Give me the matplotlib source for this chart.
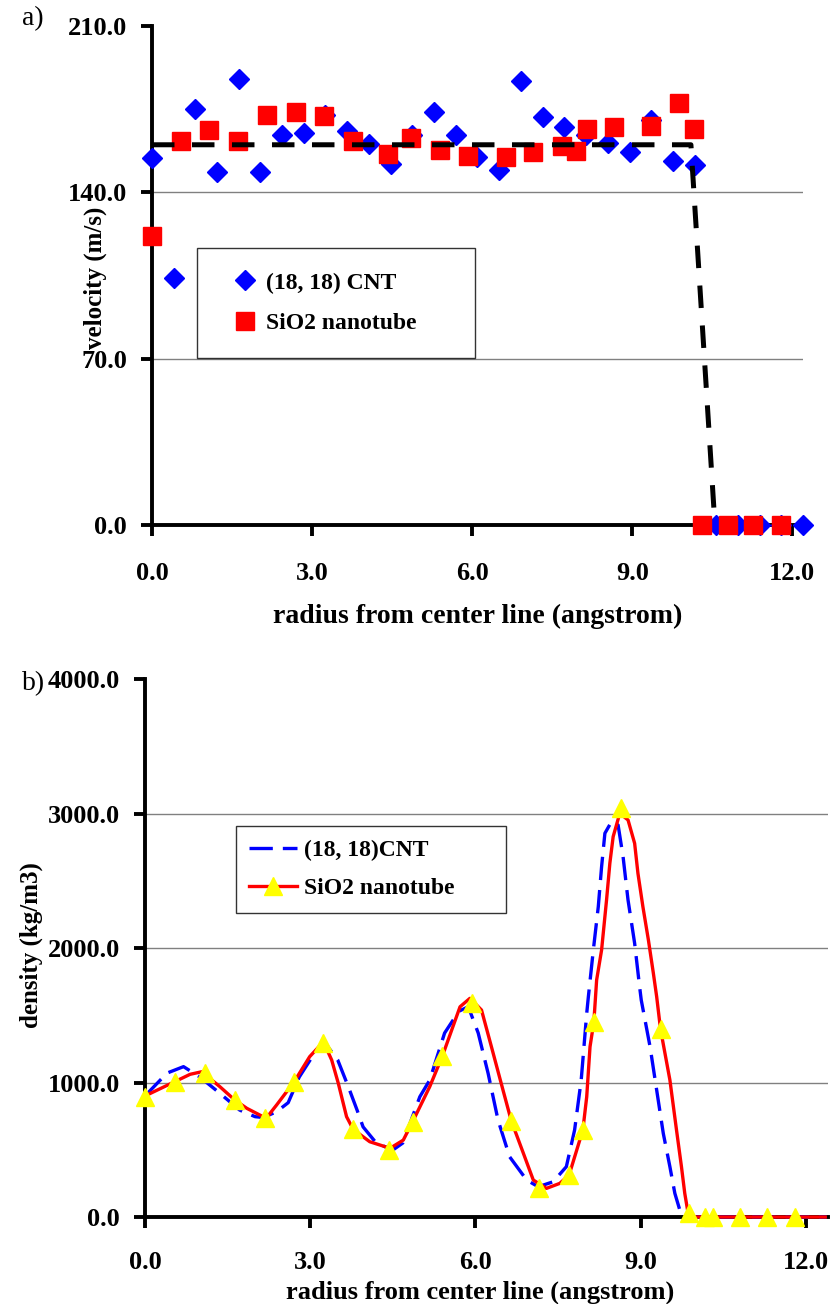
import matplotlib
matplotlib.use("Agg")
import matplotlib.pyplot as plt
from matplotlib.lines import Line2D

plt.rcParams.update({"font.family": ["Liberation Serif", "DejaVu Serif"], "font.weight": "bold",
                     "axes.labelweight": "bold"})

# ---- panel a: velocity profiles ----
cnt_r = [0.00, 0.41, 0.81, 1.22, 1.63, 2.03, 2.44, 2.85, 3.25, 3.66, 4.07, 4.47, 4.88, 5.29, 5.69, 6.10,
         6.51, 6.91, 7.32, 7.73, 8.13, 8.54, 8.95, 9.35, 9.76, 10.17, 10.57, 10.98, 11.39, 11.79, 12.20]
cnt_v = [154.3, 104.0, 175.0, 148.7, 187.7, 148.7, 164.1, 165.1, 172.6, 166.0, 160.4, 151.9, 164.1, 173.9, 164.1, 155.0,
         149.4, 187.0, 171.6, 167.4, 164.1, 160.9, 157.1, 170.5, 153.3, 151.5, 0.0, 0.0, 0.0, 0.0, 0.0]
sio2_r = [0.00, 0.54, 1.07, 1.62, 2.15, 2.70, 3.23, 3.77, 4.42, 4.85, 5.39, 5.93, 6.64, 7.14, 7.69, 7.94,
          8.16, 8.65, 9.36, 9.87, 10.15, 10.31, 10.79, 11.27, 11.78]
sio2_v = [121.6, 161.6, 166.2, 161.6, 172.6, 173.7, 172.1, 161.6, 156.0, 162.8, 157.8, 155.4, 154.8, 157.1, 159.5, 157.5,
          166.7, 167.4, 167.9, 177.7, 166.7, 0.0, 0.0, 0.0, 0.0]
mean_r = [0.0, 10.1, 10.55]
mean_v = [160.0, 160.0, 0.0]

# ---- panel b: density profiles ----
cnt_dr = [0.00, 0.40, 0.70, 1.00, 1.33, 1.72, 2.00, 2.15, 2.39, 2.60, 2.80, 3.05, 3.27, 3.50, 3.70, 3.85, 3.96, 4.20,
          4.50, 4.68, 4.99, 5.17, 5.44, 5.70, 5.87, 6.05, 6.23, 6.41, 6.62, 6.93, 7.14, 7.41, 7.65, 7.80, 7.92, 8.02,
          8.05, 8.14, 8.23, 8.29, 8.35, 8.47, 8.59, 8.68, 8.77, 8.89, 8.98, 9.01, 9.17, 9.29, 9.41, 9.53, 9.62, 9.71,
          9.83, 12.37]
cnt_d = [900, 1070, 1118, 1040, 930, 795, 746, 740, 783, 850, 1040, 1200, 1294, 1167, 960, 796, 670, 550,
         498, 550, 894, 1018, 1368, 1530, 1563, 1368, 1068, 721, 448, 275, 225, 262, 374, 647, 1019, 1514,
         1638, 1985, 2307, 2604, 2853, 2939, 2914, 2679, 2357, 2035, 1712, 1613, 1266, 944, 622, 374, 176, 52,
         0, 0]
sio2_dr = [0.00, 0.54, 0.82, 1.03, 1.36, 1.63, 1.85, 2.20, 2.39, 2.71, 2.99, 3.24, 3.39, 3.51, 3.66, 3.78, 4.08,
           4.45, 4.69, 4.86, 5.17, 5.40, 5.72, 5.90, 6.11, 6.29, 6.50, 6.65, 6.87, 7.05, 7.29, 7.53, 7.70, 7.95,
           8.02, 8.08, 8.15, 8.20, 8.29, 8.38, 8.44, 8.50, 8.62, 8.77, 8.89, 8.95, 9.04, 9.14, 9.23, 9.29, 9.36,
           9.53, 9.65, 9.74, 9.80, 9.86, 9.92, 12.35]
sio2_d = [900, 1006, 1061, 1080, 969, 870, 808, 734, 833, 1006, 1192, 1303, 1167, 994, 746, 652, 560,
          511, 572, 709, 969, 1197, 1563, 1626, 1539, 1266, 944, 716, 474, 275, 213, 250, 312, 647,
          894, 1266, 1452, 1762, 1985, 2357, 2630, 2828, 3001, 2952, 2778, 2555, 2307, 2059, 1812, 1638, 1396,
          1019, 647, 374, 176, 30, 0, 0]
tri_r = [0.00, 0.54, 1.09, 1.63, 2.18, 2.71, 3.24, 3.78, 4.43, 4.86, 5.40, 5.94, 6.65, 7.15, 7.70, 7.95,
         8.15, 8.65, 9.36, 9.88, 10.16, 10.31, 10.80, 11.29, 11.80]
tri_d = [894, 1006, 1068, 870, 734, 1006, 1291, 652, 498, 709, 1197, 1593, 716, 213, 312, 647,
         1452, 3039, 1396, 27, 0, 0, 0, 0, 0]

BLUE, RED, YELLOW, GRID = "#0000FF", "#FF0000", "#FFFF00", "#808080"


def style(ax, yticks, xticks, xpad):
    for s in ("top", "right"):
        ax.spines[s].set_visible(False)
    for s in ("left", "bottom"):
        ax.spines[s].set_linewidth(2.8)
        ax.spines[s].set_color("black")
    ax.set_yticks(yticks)
    ax.set_xticks(xticks)
    ax.set_yticklabels(["%.1f" % v for v in yticks])
    ax.set_xticklabels(["%.1f" % v for v in xticks])
    ax.tick_params(axis="both", which="both", direction="out", width=2.8, length=8, labelsize=19)
    ax.tick_params(axis="x", pad=xpad)
    ax.tick_params(axis="y", pad=10)
    for v in yticks[1:-1]:
        ax.axhline(v, color=GRID, lw=1.0, zorder=0)


fig = plt.figure(figsize=(8.36, 13.04), dpi=100)

ax1 = fig.add_axes([0.1818, 0.5974, 0.7787, 0.3827])
ax1.set_xlim(0, 12.2); ax1.set_ylim(0, 210)
style(ax1, [0, 70, 140, 210], [0, 3, 6, 9, 12], 19)
ax1.plot(cnt_r, cnt_v, ls="none", marker="D", ms=10, color=BLUE, zorder=3, clip_on=False)
ax1.plot(sio2_r, sio2_v, ls="none", marker="s", ms=13, color=RED, zorder=4, clip_on=False)
ax1.plot(mean_r, mean_v, color="black", lw=3.6, dashes=(4.5, 3.5), zorder=5)
ax1.set_xlabel("radius from center line (angstrom)", fontsize=20, va="center")
ax1.xaxis.set_label_coords(0.5, -0.184)
ax1.set_ylabel("velocity (m/s)", fontsize=18, va="center", ha="center")
ax1.yaxis.set_label_coords(-0.0876, 0.496)
h1 = [Line2D([], [], ls="none", marker="D", ms=10, color=BLUE),
      Line2D([], [], ls="none", marker="s", ms=13, color=RED)]
leg1 = ax1.legend(h1, ["(18, 18) CNT", "SiO2 nanotube"], loc="upper left",
                  bbox_to_anchor=(0.069, 0.341, 0.427, 0.214), mode="expand", fontsize=17,
                  frameon=True, fancybox=False, edgecolor="black", handlelength=2.0,
                  labelspacing=0.8, borderpad=1.02, handletextpad=-0.1, borderaxespad=0)
leg1.get_frame().set_linewidth(1.0)

ax2 = fig.add_axes([0.1734, 0.0667, 0.817, 0.4126])
ax2.set_xlim(0, 12.4); ax2.set_ylim(0, 4000)
style(ax2, [0, 1000, 2000, 3000, 4000], [0, 3, 6, 9, 12], 16.5)
ax2.plot(cnt_dr, cnt_d, color=BLUE, lw=2.4, dashes=(7, 3), zorder=3, clip_on=False)
ax2.plot(sio2_dr, sio2_d, color=RED, lw=2.4, zorder=4, clip_on=False)
ax2.plot(tri_r, tri_d, ls="none", marker="^", ms=13, color=YELLOW, zorder=5, clip_on=False)
ax2.set_xlabel("radius from center line (angstrom)", fontsize=19, va="center")
ax2.xaxis.set_label_coords(0.490, -0.139)
ax2.set_ylabel("density (kg/m3)", fontsize=18, va="center", ha="center")
ax2.yaxis.set_label_coords(-0.166, 0.506)
h2 = [Line2D([], [], color=BLUE, lw=2.4, dashes=(7, 3)),
      Line2D([], [], color=RED, lw=2.4, marker="^", ms=13, mfc=YELLOW, mec=YELLOW)]
leg2 = ax2.legend(h2, ["(18, 18)CNT", "SiO2 nanotube"], loc="upper left",
                  bbox_to_anchor=(0.133, 0.565, 0.396, 0.162), mode="expand", fontsize=17,
                  frameon=True, fancybox=False, edgecolor="black", handlelength=2.0,
                  labelspacing=0.69, borderpad=0.58, handletextpad=0.3, borderaxespad=0)
leg2.get_frame().set_linewidth(1.0)

fig.text(0.026, 0.986, "a)", fontsize=20, fontweight="normal", va="center")
fig.text(0.026, 0.476, "b)", fontsize=20, fontweight="normal", va="center")

fig.savefig("out.png", dpi=100)
